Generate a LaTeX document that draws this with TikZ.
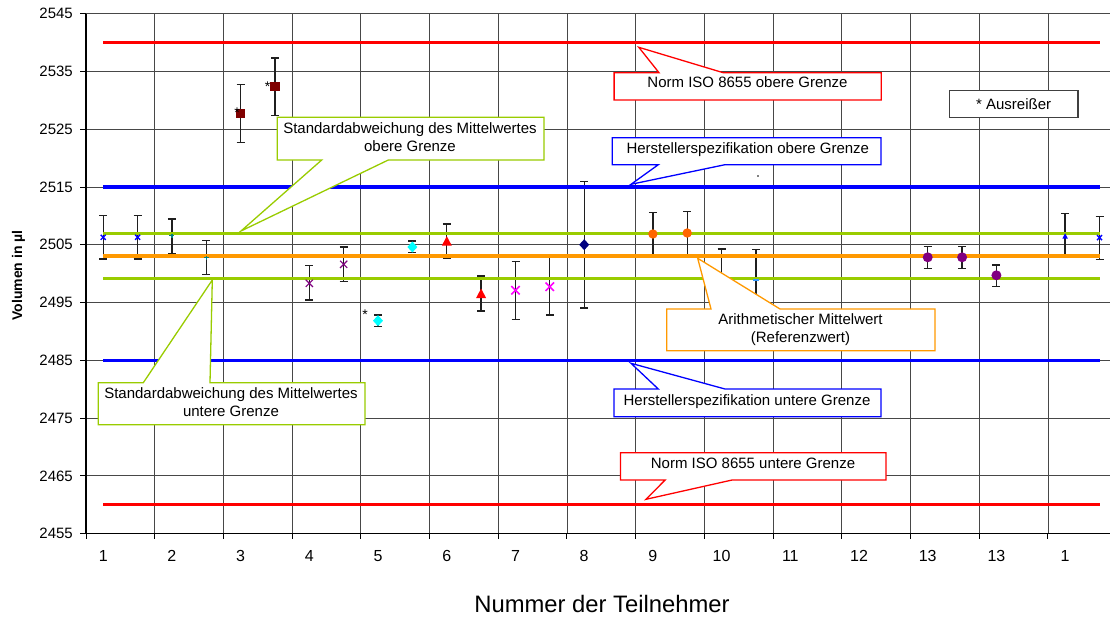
\documentclass[tikz,border=0pt]{standalone}
\usepackage{fontspec}
\setmainfont{Liberation Sans}
\definecolor{refred}{RGB}{255,0,0}
\definecolor{refblue}{RGB}{0,0,255}
\definecolor{refgreen}{RGB}{153,204,0}
\definecolor{reforange}{RGB}{255,153,0}
\definecolor{dkred}{RGB}{128,0,0}
\definecolor{xpurple}{RGB}{128,0,128}
\definecolor{xcyan}{RGB}{0,255,255}
\definecolor{xmagenta}{RGB}{255,0,255}
\definecolor{xnavy}{RGB}{0,0,128}
\definecolor{xorange}{RGB}{255,102,0}
\definecolor{xteal}{RGB}{0,128,128}
\definecolor{xlblue}{RGB}{51,153,255}
\begin{document}
\begin{tikzpicture}[x=1pt,y=-1pt,
  gridline/.style={black!72, line width=0.9pt},
  axisline/.style={black, line width=1.4pt},
  refline/.style={line width=3.3pt},
  ebar/.style={black!88, line width=1.3pt},
  callout/.style={fill=white, line width=1.3pt, line join=miter},
  lbl/.style={font=\fontsize{15}{18}\selectfont, inner sep=0pt, anchor=base},
  lbltwo/.style={font=\fontsize{15}{18}\selectfont, inner sep=0pt, align=center},
  ylab/.style={font=\fontsize{15}{18}\selectfont, inner sep=0pt, anchor=east},
  xlab/.style={font=\fontsize{16}{18}\selectfont, inner sep=0pt, anchor=base},
  outl/.style={font=\fontsize{14}{16}\selectfont, inner sep=0pt, anchor=base}]
\useasboundingbox (0,0) rectangle (1110,618);
\fill[white] (0,0) rectangle (1110,618);

% grid
\foreach \n in {0,...,9}{
  \pgfmathsetmacro\yy{13.7+\n*57.778}
  \draw[gridline] (86,\yy) -- (1110,\yy);
  \draw[axisline, line width=1pt] (80,\yy) -- (86,\yy);
}
\foreach \k in {1,...,14}{
  \pgfmathsetmacro\xx{86+\k*68.71}
  \draw[gridline] (\xx,13.7) -- (\xx,533.7);
}
\foreach \k in {0,...,14}{
  \pgfmathsetmacro\xx{86+\k*68.71}
  \draw[axisline, line width=1pt] (\xx,533.7) -- (\xx,538.5);
}
\draw[axisline] (86,13.7) -- (86,533.7);
\draw[axisline] (86,533.7) -- (1110,533.7);

% y labels
\foreach \v [count=\n from 0] in {2545,2535,2525,2515,2505,2495,2485,2475,2465,2455}{
  \pgfmathsetmacro\yy{13.7+\n*57.778}
  \node[ylab] (yl\n) at (73,\yy) {\v};
}
% x labels
\foreach \t [count=\n from 0] in {1,2,3,4,5,6,7,8,9,10,11,12,13,13,1}{
  \pgfmathsetmacro\xx{103.2+\n*68.71}
  \node[xlab] (xl\n) at (\xx,561) {\t};
}

% error bars
\foreach \x/\t/\b in {103.2/215.7/259, 137.6/215.7/259, 171.9/219/253.3, 206.3/240.3/274.7,
  240.6/84.7/142.3, 275/58/115.7, 309.3/265.7/300, 343.7/247/281.7, 378/315/326.7,
  412.4/241/252.7, 446.8/224/258.7, 481.1/276/311, 515.5/261.3/319.3, 549.8/257.3/315,
  584.2/181.7/308, 652.9/212.3/254.3, 687.2/211.7/254.3, 721.6/249/311, 756/249.7/310,
  927.7/246.7/268.7, 962.1/246.7/268.7, 996.4/265/286.7, 1065.1/213.7/257.3, 1099.5/216.3/259.3}{
  \draw[ebar] (\x,\t) -- (\x,\b) (\x-4,\t) -- (\x+4,\t) (\x-4,\b) -- (\x+4,\b);
}

% reference lines
\draw[refline, refred] (103.2,42.6) -- (1099.5,42.6);
\draw[refline, refblue] (103.2,187.1) -- (1099.5,187.1);
\draw[refline, refgreen] (103.2,233.3) -- (1099.5,233.3);
\draw[refline, reforange] (103.2,256.1) -- (1099.5,256.1);
\draw[refline, refgreen] (103.2,278.6) -- (1099.5,278.6);
\draw[refline, refblue] (103.2,360.4) -- (1099.5,360.4);
\draw[refline, refred] (103.2,504.8) -- (1099.5,504.8);

% markers
\foreach \x/\y in {103.2/237.3, 137.6/237.3, 1099.5/237.7}
  \draw[refblue, line width=1.4pt] (\x-2.5,\y-2.5) -- (\x+2.5,\y+2.5) (\x-2.5,\y+2.5) -- (\x+2.5,\y-2.5);
\foreach \x/\y in {171.9/235.7, 206.3/257.7}
  \draw[xteal, line width=1.2pt] (\x-2.5,\y) -- (\x+2.5,\y) (\x,\y-2) -- (\x,\y+2);
\foreach \x/\y in {240.6/113.3, 275/86.7}
  \fill[dkred] (\x-4.7,\y-4.7) rectangle (\x+4.7,\y+4.7);
\foreach \x/\y in {309.3/283.3, 343.7/264.3}
  \draw[xpurple, line width=1.1pt] (\x-3.6,\y-3.6) -- (\x+3.6,\y+3.6) (\x-3.6,\y+3.6) -- (\x+3.6,\y-3.6);
\foreach \x/\y in {378/320.7, 412.4/247}
  \fill[xcyan] (\x,\y-5.5) -- (\x+5,\y) -- (\x,\y+5.5) -- (\x-5,\y) -- cycle;
\foreach \x/\y in {446.8/241.7, 481.1/294}
  \fill[refred] (\x,\y-5.5) -- (\x+5,\y+4) -- (\x-5,\y+4) -- cycle;
\foreach \x/\y in {515.5/290.3, 549.8/286.7}
  \draw[xmagenta, line width=1.6pt] (\x-4.2,\y-4.2) -- (\x+4.2,\y+4.2) (\x-4.2,\y+4.2) -- (\x+4.2,\y-4.2);
\fill[xnavy] (584.2,239.2) -- (589.2,244.7) -- (584.2,250.2) -- (579.2,244.7) -- cycle;
\foreach \x/\y in {652.9/234, 687.2/233}
  \fill[xorange] (\x,\y) circle[radius=4.7];
\foreach \x/\y in {721.6/280, 756/280}
  \draw[xlblue, line width=1.4pt] (\x-3,\y) -- (\x+3,\y);
\foreach \x/\y in {927.7/257.3, 962.1/257.3, 996.4/275.3}
  \fill[xpurple] (\x,\y) circle[radius=5];
\fill[refblue] (1065.1,233.3) -- (1067.8,238.5) -- (1062.4,238.5) -- cycle;

% outlier stars
\node[outl] (st1) at (237,117.6) {*};
\node[outl] (st2) at (267.7,91.9) {*};
\node[outl] (st3) at (365,319.3) {*};
\fill[black] (758,176) circle[radius=0.8];

% callouts
\draw[callout, draw=refred] (614.1,72.7) -- (659,72.7) -- (638.8,47.3) -- (723.2,72.7) -- (881.2,72.7) -- (881.2,100) -- (614.1,100) -- cycle;
\node[lbl] (normob) at (747.5,87.1) {Norm ISO 8655 obere Grenze};

\draw[callout, draw=black!75] (949.4,90.7) rectangle (1078,117.7);
\node[lbl] (ausr) at (1013.6,109.7) {* Ausreißer};

\draw[callout, draw=refblue] (612.3,137.7) -- (881,137.7) -- (881,164.7) -- (725,164.7) -- (631,184.3) -- (658.3,164.7) -- (612.3,164.7) -- cycle;
\node[lbl] (herstob) at (747.8,153.7) {Herstellerspezifikation obere Grenze};

\draw[callout, draw=refgreen] (277.3,117.3) -- (544,117.3) -- (544,160) -- (388.3,160) -- (241,231) -- (321.7,160) -- (277.3,160) -- cycle;
\node[lbltwo] (sdob) at (410,136.8) {Standardabweichung des Mittelwertes\\obere Grenze};

\draw[callout, draw=refgreen] (98.3,382.7) -- (143.3,382.7) -- (212.3,280) -- (210,382.7) -- (365,382.7) -- (365,424.7) -- (98.3,424.7) -- cycle;
\node[lbltwo] (sdun) at (231,402.6) {Standardabweichung des Mittelwertes\\untere Grenze};

\draw[callout, draw=reforange] (666.7,309) -- (711,309) -- (697.7,258.3) -- (780,309) -- (935,309) -- (935,350.7) -- (666.7,350.7) -- cycle;
\node[lbltwo] (mittel) at (800.5,329.8) {Arithmetischer Mittelwert\\(Referenzwert)};

\draw[callout, draw=refblue] (614,389) -- (658.3,389) -- (631,363.3) -- (725,389) -- (881,389) -- (881,416.7) -- (614,416.7) -- cycle;
\node[lbl] (herstun) at (747,405.4) {Herstellerspezifikation untere Grenze};

\draw[callout, draw=refred] (620.4,452.7) -- (886,452.7) -- (886,480) -- (732.1,480) -- (646,499.3) -- (665.1,480) -- (620.4,480) -- cycle;
\node[lbl] (normun) at (753,468.1) {Norm ISO 8655 untere Grenze};

% axis titles
\node[font=\fontsize{23.8}{28}\selectfont, inner sep=0pt] (xtitle) at (602,604) {Nummer der Teilnehmer};
\node[font=\bfseries\fontsize{14}{16}\selectfont, inner sep=0pt, rotate=90] (ytitle) at (18.5,275.5) {Volumen in µl};
\end{tikzpicture}
\end{document}
